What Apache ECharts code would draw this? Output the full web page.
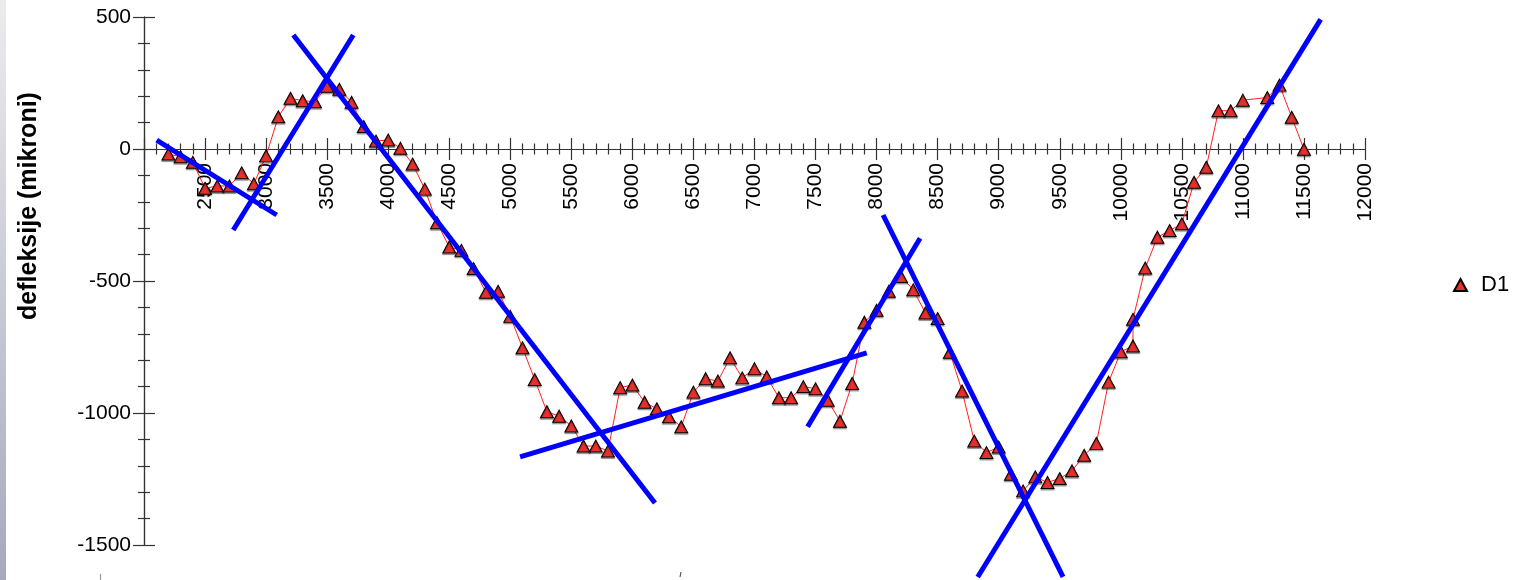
<!DOCTYPE html>
<html>
<head>
<meta charset="utf-8">
<title>defleksije</title>
<script src="https://cdn.jsdelivr.net/npm/echarts@6/dist/echarts.min.js"></script>
<style>
  html, body { margin: 0; padding: 0; background: #fff; }
  #chart { width: 1513px; height: 580px; }
</style>
</head>
<body>
<div id="chart"></div>
<script>
// Measured deflection D1 along the profile (position, deflection in microns)
const positions = [
  2200, 2300, 2400, 2500, 2600, 2700, 2800, 2900, 3000, 3100,
  3200, 3300, 3400, 3500, 3600, 3700, 3800, 3900, 4000, 4100,
  4200, 4300, 4400, 4500, 4600, 4700, 4800, 4900, 5000, 5100,
  5200, 5300, 5400, 5500, 5600, 5700, 5800, 5900, 6000, 6100,
  6200, 6300, 6400, 6500, 6600, 6700, 6800, 6900, 7000, 7100,
  7200, 7300, 7400, 7500, 7600, 7700, 7800, 7900, 8000, 8100,
  8200, 8300, 8400, 8500, 8600, 8700, 8800, 8900, 9000, 9100,
  9200, 9300, 9400, 9500, 9600, 9700, 9800, 9900, 10000, 10100,
  10100, 10200, 10300, 10400, 10500, 10600, 10700, 10800, 10900, 11000,
  11200, 11300, 11400, 11500
];
const deflections = [
  -19, -29, -50, -149, -140, -140, -90, -132, -26, 122,
  192, 183, 179, 238, 226, 177, 85, 30, 34, 3,
  -57, -152, -279, -371, -384, -453, -543, -539, -634, -753,
  -873, -995, -1012, -1049, -1125, -1125, -1144, -904, -894, -959,
  -984, -1014, -1052, -921, -870, -879, -791, -867, -832, -863,
  -942, -942, -900, -908, -952, -1031, -888, -656, -611, -539,
  -483, -533, -621, -642, -770, -917, -1106, -1150, -1129, -1232,
  -1295, -1242, -1263, -1248, -1219, -1160, -1115, -883, -768, -746,
  -645, -451, -334, -309, -283, -126, -69, 145, 145, 185,
  195, 242, 120, -1
];

// Straight trend segments drawn over the profile (start point, end point)
const trendLines = [
  [[2104, 34], [3087, -250]],
  [[2731, -307], [3714, 432]],
  [[3223, 432], [6185, -1341]],
  [[5080, -1166], [7919, -772]],
  [[7435, -1052], [8356, -338]],
  [[8053, -250], [9527, -1621]],
  [[8828, -1621], [11637, 491]]
];

// Axis ranges and tick steps
const xRange = [2000, 12000];
const yRange = [-1500, 500];
const majorStep = 500;

const seriesName = 'D1';
const yAxisTitle = 'defleksije (mikroni)';

const FONT = '"Liberation Sans", Arial, Helvetica, sans-serif';
const AXIS_COLOR = '#333333';

// Plot box (pixels) and the resulting offset that puts the x axis on y = 0
const GRID_TOP = 17;
const GRID_BOTTOM = 35;
const GRID_HEIGHT = 580 - GRID_TOP - GRID_BOTTOM;
const zeroShift = -GRID_HEIGHT * (0 - yRange[0]) / (yRange[1] - yRange[0]);

const d1Data = positions.map((x, i) => [x, deflections[i]]);

function xAxisCfg(inside) {
  return {
    type: 'value',
    position: 'bottom',
    offset: zeroShift,
    min: xRange[0],
    max: xRange[1],
    interval: majorStep,
    axisLine: { show: true, onZero: false, lineStyle: { color: AXIS_COLOR, width: 1.2 } },
    axisTick: { show: true, inside: inside, length: 11, lineStyle: { color: AXIS_COLOR, width: 1.2 } },
    minorTick: { show: true, splitNumber: 5, length: 5.5, lineStyle: { color: AXIS_COLOR, width: 1.2 } },
    axisLabel: inside ? { show: false } : {
      show: true, rotate: 90, margin: 14, fontSize: 21, color: '#000',
      fontFamily: FONT, showMinLabel: false,
      formatter: v => (v === xRange[0] ? '' : String(v))
    },
    splitLine: { show: false },
    minorSplitLine: { show: false }
  };
}

function yAxisCfg(inside) {
  return {
    type: 'value',
    position: 'left',
    min: yRange[0],
    max: yRange[1],
    interval: majorStep,
    axisLine: { show: true, onZero: false, lineStyle: { color: AXIS_COLOR, width: 1.2 } },
    axisTick: { show: true, inside: inside, length: 11, lineStyle: { color: AXIS_COLOR, width: 1.2 } },
    minorTick: { show: true, splitNumber: 5, length: 6, lineStyle: { color: AXIS_COLOR, width: 1.2 } },
    axisLabel: inside ? { show: false } : {
      show: true, margin: 13, fontSize: 21, color: '#000', fontFamily: FONT,
      formatter: v => String(v)
    },
    splitLine: { show: false },
    minorSplitLine: { show: false }
  };
}

const trendSeries = trendLines.map((seg, i) => ({
  name: 'trend' + (i + 1),
  type: 'line',
  xAxisIndex: 0,
  yAxisIndex: 0,
  data: seg,
  symbol: 'none',
  clip: false,
  silent: true,
  z: 5,
  lineStyle: { color: '#0000ff', width: 5, cap: 'butt' }
}));

const chart = echarts.init(document.getElementById('chart'), null, { renderer: 'canvas' });

chart.setOption({
  animation: false,
  backgroundColor: '#ffffff',
  textStyle: { fontFamily: FONT },
  grid: { left: 144, right: 148, top: GRID_TOP, bottom: GRID_BOTTOM, containLabel: false, outerBoundsMode: 'none' },
  xAxis: [xAxisCfg(false), xAxisCfg(true)],
  yAxis: [yAxisCfg(false), yAxisCfg(true)],
  legend: {
    data: [seriesName],
    left: 1453,
    top: 274,
    padding: 0,
    orient: 'vertical',
    icon: 'triangle',
    itemWidth: 13,
    itemHeight: 12,
    itemGap: 8,
    textStyle: { fontSize: 22, color: '#000', fontFamily: FONT, padding: [0, 0, 0, 9] }
  },
  graphic: [
    {
      type: 'rect',
      left: 0, top: 0,
      shape: { width: 6, height: 580 },
      style: {
        fill: new echarts.graphic.LinearGradient(0, 0, 0, 1, [
          { offset: 0, color: '#ececee' },
          { offset: 1, color: '#a6a9bb' }
        ])
      },
      silent: true
    },
    {
      type: 'line',
      shape: { x1: 100.5, y1: 574, x2: 100.5, y2: 580 },
      style: { stroke: '#9a9a9a', lineWidth: 1.2 },
      silent: true
    },
    {
      type: 'line',
      shape: { x1: 681, y1: 572, x2: 680, y2: 577 },
      style: { stroke: '#555555', lineWidth: 1.2 },
      silent: true
    },
    {
      type: 'text',
      x: 29,
      y: 206,
      rotation: Math.PI / 2,
      style: {
        text: yAxisTitle,
        fontFamily: FONT,
        fontWeight: 'bold',
        fontSize: 25,
        fill: '#000',
        align: 'center',
        verticalAlign: 'middle'
      },
      silent: true
    }
  ],
  series: [
    {
      name: seriesName,
      type: 'line',
      xAxisIndex: 0,
      yAxisIndex: 0,
      data: d1Data,
      symbol: 'triangle',
      symbolSize: [13, 12],
      showAllSymbol: true,
      z: 3,
      lineStyle: { color: '#ff2020', width: 1 },
      itemStyle: {
        color: '#e5302c',
        borderColor: '#000000',
        borderWidth: 1,
        shadowColor: 'rgba(0,0,0,0.35)',
        shadowBlur: 1,
        shadowOffsetY: 1.5
      },
      emphasis: { disabled: true }
    },
    ...trendSeries
  ]
});
</script>
</body>
</html>
